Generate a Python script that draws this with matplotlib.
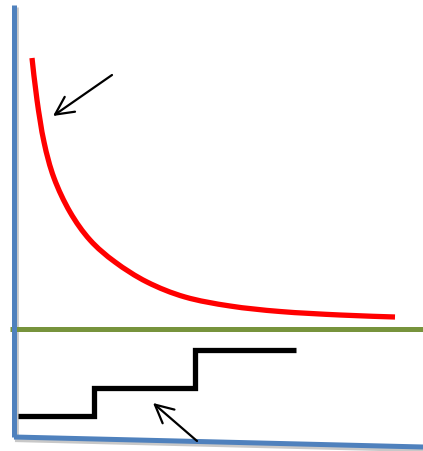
import matplotlib
matplotlib.use("Agg")
import matplotlib.pyplot as plt
from matplotlib.path import Path
from matplotlib.patches import PathPatch

# Sketch coordinates (x to the right, y downward)
axis_vertical_x = [14, 14]
axis_vertical_y = [5, 437]
axis_bottom_x = [14, 423]
axis_bottom_y = [437, 447]

baseline_x = [10, 423]
baseline_y = [329, 329]

decay_x = [32, 37, 44, 54, 70, 90, 115, 147, 185, 230, 280, 340, 395]
decay_y = [58, 100, 142, 178, 212, 240, 262, 282, 297, 306, 311.5, 315, 317]

step_x = [18, 94, 94, 195, 195, 296]
step_y = [416, 416, 388, 388, 350, 350]

arrow_tails = [(112, 75), (197, 441)]
arrow_tips = [(53, 116), (153, 403)]


def smooth_path(xs, ys):
    """Catmull-Rom curve through the points, as cubic Bezier segments."""
    pts = list(zip(xs, ys))
    ext = [pts[0]] + pts + [pts[-1]]
    verts = [pts[0]]
    codes = [Path.MOVETO]
    for i in range(1, len(ext) - 2):
        p0, p1, p2, p3 = ext[i - 1], ext[i], ext[i + 1], ext[i + 2]
        c1 = (p1[0] + (p2[0] - p0[0]) / 6, p1[1] + (p2[1] - p0[1]) / 6)
        c2 = (p2[0] - (p3[0] - p1[0]) / 6, p2[1] - (p3[1] - p1[1]) / 6)
        verts += [c1, c2, p2]
        codes += [Path.CURVE4] * 3
    return Path(verts, codes)


fig = plt.figure(figsize=(4.23, 4.51), dpi=100)
ax = fig.add_axes([0, 0, 1, 1])
ax.set_xlim(0, 423)
ax.set_ylim(451, 0)
ax.axis("off")

blue = "#4F81BD"
# soft shadow under the axes lines
ax.plot([x + 2 for x in axis_vertical_x], [y + 2 for y in axis_vertical_y],
        color="#c8c8c8", lw=3.4, solid_capstyle="butt", zorder=1)
ax.plot([x + 1 for x in axis_bottom_x], [y + 3 for y in axis_bottom_y],
        color="#c8c8c8", lw=3.0, solid_capstyle="butt", zorder=1)
ax.plot(axis_vertical_x, axis_vertical_y, color=blue, lw=3.6,
        solid_capstyle="butt", zorder=3)
ax.plot(axis_bottom_x, axis_bottom_y, color=blue, lw=3.6,
        solid_capstyle="butt", zorder=3)

ax.plot(baseline_x, baseline_y, color="#77933C", lw=3.6,
        solid_capstyle="butt", zorder=2)

ax.add_patch(PathPatch(smooth_path(decay_x, decay_y), facecolor="none",
                       edgecolor="#FF0000", lw=3.8, capstyle="butt", zorder=4))

ax.plot(step_x, step_y, color="black", lw=3.8,
        solid_capstyle="butt", solid_joinstyle="miter", zorder=4)

for tail, tip in zip(arrow_tails, arrow_tips):
    ax.annotate("", xy=tip, xytext=tail,
                arrowprops=dict(arrowstyle="->,head_length=1.3,head_width=0.65",
                                color="black", lw=1.6,
                                shrinkA=0, shrinkB=0),
                zorder=5)

fig.savefig("out.png", dpi=100)
